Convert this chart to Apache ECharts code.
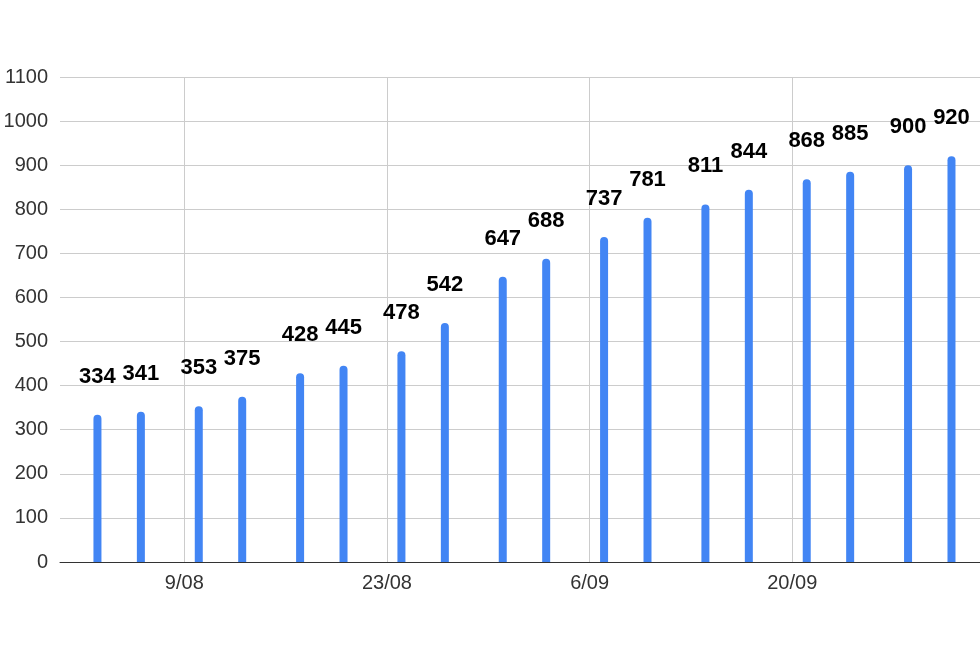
<!DOCTYPE html>
<html>
<head>
<meta charset="utf-8">
<script src="https://cdn.jsdelivr.net/npm/echarts@6/dist/echarts.min.js"></script>
<style>
html,body{margin:0;padding:0;background:#fff;}
#chart{width:980px;height:656px;}
</style>
</head>
<body>
<div id="chart"></div>
<script>
// Data
const dates = ['3/08','6/08','10/08','13/08','17/08','20/08','24/08','27/08','31/08','3/09','7/09','10/09','14/09','17/09','21/09','24/09','28/09','1/10'];
const values = [334,341,353,375,428,445,478,542,647,688,737,781,811,844,868,885,900,920];
const xTickLabels = ['9/08','23/08','6/09','20/09'];
const yTicks = [0,100,200,300,400,500,600,700,800,900,1000,1100];

function dayNum(s){
  const p = s.split('/');
  return Date.UTC(2020, parseInt(p[1],10)-1, parseInt(p[0],10)) / 86400000;
}
const origin = dayNum('9/08');
const xs = dates.map(d => dayNum(d) - origin);
const tickVals = xTickLabels.map(d => dayNum(d) - origin);
const labelMap = {};
xTickLabels.forEach((l,i)=>{ labelMap[tickVals[i]] = l; });

const FONT = 'Liberation Sans, Arial, sans-serif';
const chart = echarts.init(document.getElementById('chart'), null, {renderer:'canvas'});
chart.setOption({
  animation:false,
  backgroundColor:'#ffffff',
  textStyle:{fontFamily:FONT},
  grid:{left:60, right:0, top:77, bottom:94, containLabel:false},
  xAxis:{
    type:'value',
    min:-8.587,
    max:54.97,
    axisLine:{show:true, lineStyle:{color:'#333', width:1}},
    axisTick:{show:false, customValues:tickVals},
    axisLabel:{customValues:tickVals, formatter:v=>labelMap[v]||'', color:'#333', fontSize:20, margin:11, fontFamily:FONT},
    splitLine:{show:true, lineStyle:{color:'#cccccc', width:1}}
  },
  yAxis:{
    type:'value',
    min:yTicks[0],
    max:yTicks[yTicks.length-1],
    interval:100,
    axisLine:{show:false},
    axisTick:{show:false},
    axisLabel:{color:'#333', fontSize:20, margin:12, fontFamily:FONT, formatter:v=>String(v)},
    splitLine:{show:true, lineStyle:{color:'#cccccc', width:1}}
  },
  series:[{
    type:'bar',
    data: xs.map((x,i)=>[x, values[i]]),
    barWidth:8,
    itemStyle:{color:'#4285f4', borderRadius:[4,4,0,0]},
    label:{show:true, position:'top', distance:27, color:'#000', fontSize:22, fontWeight:'bold', fontFamily:FONT},
    z:3
  }]
});
</script>
</body>
</html>
